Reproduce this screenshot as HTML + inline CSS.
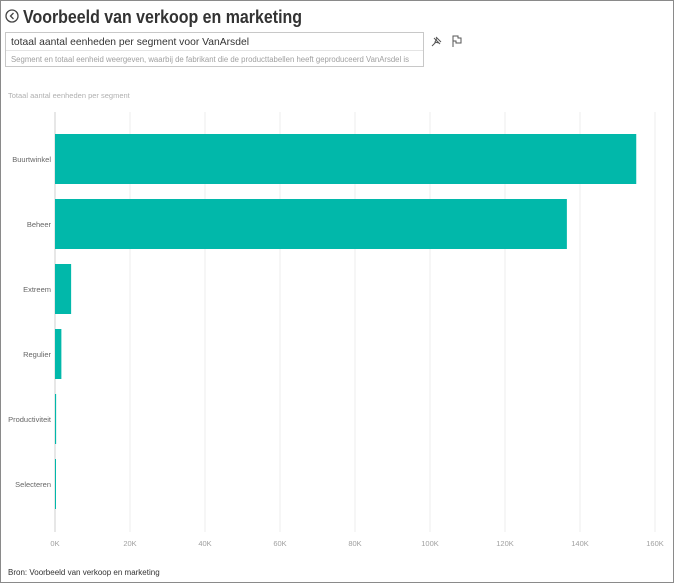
<!DOCTYPE html>
<html><head><meta charset="utf-8"><style>
body{margin:0;width:674px;height:583px;overflow:hidden;background:#fff;font-family:"Liberation Sans",sans-serif}
#frame{position:absolute;left:0;top:0;width:672px;height:581px;border:1px solid #8a8a8a}
</style></head><body>
<div id="frame"></div>
<svg width="674" height="583" style="position:absolute;left:0;top:0">
<g><circle cx="12" cy="16" r="6" fill="none" stroke="#444" stroke-width="1.3"/><path d="M13.5 13 L10.5 16 L13.5 19" fill="none" stroke="#444" stroke-width="1.3"/></g>
<text x="23" y="23" font-size="18" font-weight="bold" fill="#333" textLength="279" lengthAdjust="spacingAndGlyphs">Voorbeeld van verkoop en marketing</text>
<rect x="5.5" y="32.5" width="418" height="34" fill="#fff" stroke="#c8c8c8"/>
<line x1="6" y1="50.5" x2="423" y2="50.5" stroke="#e4e4e4"/>
<text x="11" y="45" font-size="10.5" fill="#333" textLength="238" lengthAdjust="spacingAndGlyphs">totaal aantal eenheden per segment voor VanArsdel</text>
<text x="11" y="62" font-size="8" fill="#a0a0a0" textLength="398" lengthAdjust="spacingAndGlyphs">Segment en totaal eenheid weergeven, waarbij de fabrikant die de producttabellen heeft geproduceerd VanArsdel is</text>
<g><path d="M432 46 L436 42 M434 38 L440 44 M436 37 L441 42 M437 38 L435 42 L439 43" fill="none" stroke="#555" stroke-width="1"/></g>
<g><path d="M453 47 V36 H458 V38 H461 V43 H456 V41 H453" fill="none" stroke="#555" stroke-width="1"/></g>
<text x="8" y="98" font-size="7.5" fill="#b0b0b0">Totaal aantal eenheden per segment</text>
<g id="grid"></g><g id="bars"></g><g id="labels"></g>
<text x="8" y="575" font-size="8" fill="#333">Bron: Voorbeeld van verkoop en marketing</text>
</svg>
<script>
const categories=["Buurtwinkel","Beheer","Extreem","Regulier","Productiviteit","Selecteren"];
const values=[155000,136500,4300,1700,300,250];
const ticks=[0,20000,40000,60000,80000,100000,120000,140000,160000];
const tickLabels=["0K","20K","40K","60K","80K","100K","120K","140K","160K"];
const ns="http://www.w3.org/2000/svg";
const x0=55,x1=655,maxV=160000,top0=127,pitch=65,barH=50;
const xs=v=>x0+(v/maxV)*(x1-x0);
const yb=i=>top0+7+i*pitch;
const grid=document.getElementById('grid'),bars=document.getElementById('bars'),labels=document.getElementById('labels');
ticks.forEach((t,i)=>{
 const l=document.createElementNS(ns,'line');
 
 
 l.setAttribute('x1',xs(t));l.setAttribute('x2',xs(t));l.setAttribute('y1',112);l.setAttribute('y2',532);
 l.setAttribute('stroke',i==0?'#cfcfcf':'#ececec');l.setAttribute('stroke-width',1);
 grid.appendChild(l);
 const tx=document.createElementNS(ns,'text');
 
 
 tx.setAttribute('x',xs(t));tx.setAttribute('y',546);tx.setAttribute('font-size',7.5);tx.setAttribute('fill','#a0a0a0');tx.setAttribute('text-anchor','middle');
 tx.textContent=tickLabels[i];labels.appendChild(tx);
});
categories.forEach((c,i)=>{
 const r=document.createElementNS(ns,'rect');
 
 
 r.setAttribute('x',x0);r.setAttribute('y',yb(i));
 r.setAttribute('width',Math.max(xs(values[i])-x0,1));r.setAttribute('height',barH);r.setAttribute('fill','#01b8aa');
 bars.appendChild(r);
 const tx=document.createElementNS(ns,'text');
 
 
 tx.setAttribute('x',51);tx.setAttribute('y',yb(i)+barH/2+3);tx.setAttribute('font-size',7.5);tx.setAttribute('fill','#666');tx.setAttribute('text-anchor','end');
 tx.textContent=c;labels.appendChild(tx);
});
</script>
</body></html>
